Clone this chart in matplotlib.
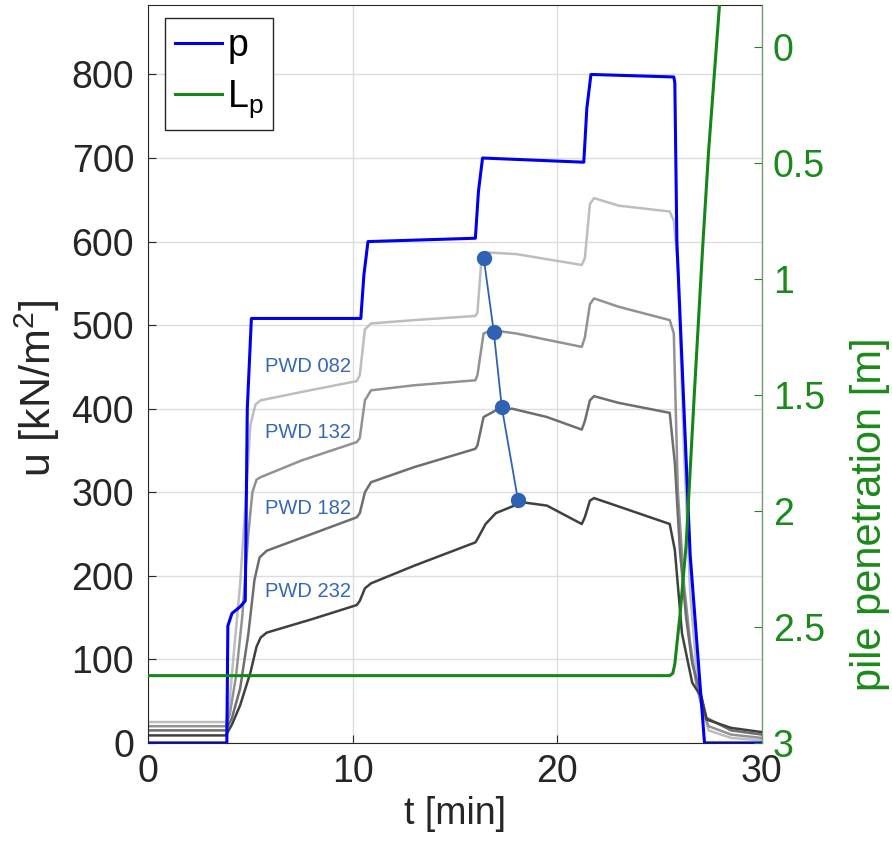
import numpy as np
import matplotlib
matplotlib.use('Agg')
import matplotlib.pyplot as plt

plt.rcParams['font.family'] = ['Liberation Sans', 'DejaVu Sans']
plt.rcParams['mathtext.fontset'] = 'custom'
plt.rcParams['mathtext.rm'] = 'Liberation Sans'
plt.rcParams['mathtext.it'] = 'Liberation Sans'

# applied pressure p
t_p = [0, 3.85, 3.9, 4.1, 4.5, 4.75, 4.85, 5.05, 10.4, 10.55, 10.75, 16.0, 16.15, 16.35,
       21.3, 21.45, 21.65, 25.7, 25.75, 25.85, 26.5, 27.2, 30]
p = [0, 0, 140, 155, 163, 170, 400, 508, 508, 560, 600, 604, 660, 700,
     695, 760, 800, 797, 790, 600, 225, 0, 0]

# pore water pressure sensors
t_082 = [0, 3.8, 3.95, 4.2, 4.5, 4.8, 5.0, 5.25, 5.5, 7.5, 10.2, 10.35, 10.6, 10.9, 13, 16.0,
         16.1, 16.3, 16.6, 18, 21.2, 21.35, 21.6, 21.8, 23, 25.5, 25.7, 25.9, 26.2, 26.5, 26.8,
         27.1, 27.4, 28.5, 30]
u_082 = [25, 25, 40, 110, 190, 300, 380, 405, 410, 420, 433, 440, 495, 502, 506, 511,
         515, 580, 587, 585, 572, 580, 645, 652, 643, 636, 625, 570, 350, 180, 90,
         40, 15, 6, 3]

t_132 = [0, 3.8, 4.0, 4.3, 4.6, 4.9, 5.1, 5.3, 5.5, 7.5, 10.2, 10.35, 10.6, 10.9, 13, 16.0,
         16.1, 16.4, 16.8, 18, 21.2, 21.35, 21.6, 21.8, 23, 25.5, 25.7, 25.9, 26.2, 26.5, 26.8,
         27.1, 27.4, 28.5, 30]
u_132 = [20, 20, 35, 80, 150, 250, 300, 315, 318, 338, 360, 365, 410, 422, 428, 434,
         440, 490, 494, 490, 474, 485, 525, 532, 522, 506, 490, 300, 190, 120, 70,
         40, 20, 10, 6]

t_182 = [0, 3.8, 4.1, 4.5, 4.9, 5.2, 5.45, 5.8, 8, 10.2, 10.35, 10.6, 10.9, 13, 16.0,
         16.1, 16.4, 17.0, 17.8, 19.5, 21.2, 21.35, 21.6, 21.8, 23, 25.5, 25.75, 26.0, 26.3,
         26.6, 27.0, 27.3, 28.5, 30]
u_182 = [15, 15, 30, 65, 130, 195, 222, 230, 250, 270, 275, 300, 312, 330, 352,
         356, 390, 398, 400, 390, 375, 385, 410, 415, 407, 395, 335, 230, 150,
         95, 60, 30, 15, 10]

t_232 = [0, 3.8, 4.1, 4.5, 5.0, 5.3, 5.5, 5.8, 8, 10.2, 10.35, 10.6, 10.9, 13, 16.0,
         16.1, 16.5, 17.0, 18.3, 19.5, 21.2, 21.35, 21.6, 21.8, 23, 25.5, 25.75, 26.1, 26.6,
         27.05, 27.3, 28.5, 30]
u_232 = [9, 9, 22, 45, 84, 115, 126, 132, 148, 165, 170, 185, 191, 212, 240,
         244, 262, 275, 288, 284, 262, 270, 290, 293, 283, 262, 231, 131, 72,
         55, 28, 18, 13]

# pile penetration L_p
t_L = [0, 25.5, 25.65, 25.75, 26.0, 26.3, 26.7, 27.1, 27.4, 27.95]
L_p = [2.71, 2.71, 2.70, 2.66, 2.45, 2.15, 1.5, 0.88, 0.45, -0.2]

# peak markers
t_pk = [16.41, 16.9, 17.29, 18.08]
u_pk = [580, 492, 402, 291]

labels = ['PWD 082', 'PWD 132', 'PWD 182', 'PWD 232']
label_u = [450, 372, 281, 181]

fig = plt.figure(figsize=(8.92, 8.51), dpi=100)
ax = fig.add_axes([0.166, 0.127, 0.688, 0.867])

ax.plot(t_082, u_082, color='#bdbdbd', lw=1.8)
ax.plot(t_132, u_132, color='#929292', lw=1.8)
ax.plot(t_182, u_182, color='#6e6e6e', lw=1.8)
ax.plot(t_232, u_232, color='#404040', lw=1.8)
lp, = ax.plot(t_p, p, color='#0000ee', lw=2.2, label='p')

ax.plot(t_pk, u_pk, color='#2f62b4', lw=1.3, marker='o', markersize=10)
for lab, uy in zip(labels, label_u):
    ax.text(5.7, uy, lab, color='#3567b8', fontsize=14.5, va='center', ha='left')

ax.set_xlim(0, 30)
ax.set_ylim(0, 883)
ax.set_xticks([0, 10, 20, 30])
ax.set_yticks(np.arange(0, 900, 100))
ax.grid(True, color='#dddddd', lw=1)
ax.set_axisbelow(True)
ax.tick_params(direction='in', length=6, labelsize=27, colors='#262626', pad=8)
ax.tick_params(axis='y', pad=10)
for s in ['left', 'bottom', 'top']:
    ax.spines[s].set_color('#262626')
ax.set_xlabel('t [min]', fontsize=27, color='#262626', labelpad=4)
ax.set_ylabel('u [kN/m$^2$]', fontsize=31, color='#262626')
ax.yaxis.set_label_coords(-0.14, 0.48)

ax2 = ax.twinx()
lL, = ax2.plot(t_L, L_p, color='#16861a', lw=2.2, label='L$_\\mathrm{p}$')
ax2.set_ylim(3, -0.18)
ax2.set_yticks([0, 0.5, 1, 1.5, 2, 2.5, 3])
ax2.set_yticklabels(['0', '0.5', '1', '1.5', '2', '2.5', '3'])
ax2.tick_params(direction='in', length=6, labelsize=27, colors='#1a8a1a', pad=8)
ax2.spines['right'].set_color('#6a9f6a')
for s in ['left', 'bottom', 'top']:
    ax2.spines[s].set_visible(False)
ax2.set_ylabel('pile penetration [m]', fontsize=30, color='#1a8a1a')
ax2.yaxis.set_label_coords(1.143, 0.31)

leg = ax2.legend(handles=[lp, lL], loc='upper left', bbox_to_anchor=(0.028, 0.982),
                 borderaxespad=0, fontsize=27, frameon=True, fancybox=False,
                 handlelength=1.25, handletextpad=0.15, borderpad=0.25, labelspacing=0.4)
leg.get_frame().set_edgecolor('#262626')
leg.get_frame().set_linewidth(1)
leg.get_frame().set_alpha(1)

fig.savefig('out.png', dpi=100)
